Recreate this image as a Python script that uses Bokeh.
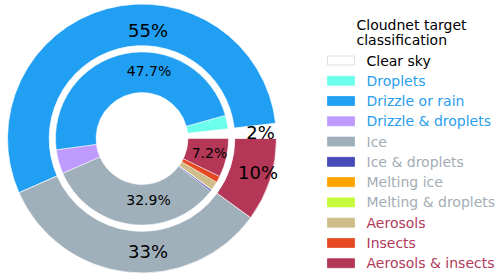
import numpy as np
from bokeh.plotting import figure
from bokeh.models import Range1d
from bokeh.core.properties import value
from bokeh.embed import file_html
from bokeh.resources import INLINE

# ---------------- data ----------------
classes = ["Clear sky", "Droplets", "Drizzle or rain", "Drizzle & droplets",
           "Ice", "Ice & droplets", "Melting ice", "Melting & droplets",
           "Aerosols", "Insects", "Aerosols & insects"]
class_pct = [1.8, 2.5, 47.7, 4.5, 32.9, 0.3, 0.1, 0.0, 1.6, 1.2, 7.2]
class_colors = ["#ffffff", "#6CFFEC", "#209FF3", "#BF9AFF", "#a0b0bb",
                "#464AB9", "#ffa500", "#C7FA3A", "#CEBC89", "#E64A23", "#B43757"]
class_group = [0, 1, 1, 1, 2, 2, 2, 2, 3, 3, 3]
group_colors = ["#ffffff", "#209FF3", "#a0b0bb", "#B43757"]
group_text_colors = ["#000000", "#2a9ded", "#a3adb5", "#b13a5a"]
legend_title = ["Cloudnet target", "classification"]

# ---------------- geometry (pixels) ----------------
W, H = 500, 277
def Y(y_img):
    return H - y_img

cx, cy = 141.5, Y(138)
R_out, R_out_in = 134.5, 92.8
R_in, R_in_in = 86.5, 46.0

p = figure(width=W, height=H, output_backend="svg", toolbar_location=None,
           x_range=Range1d(0, W), y_range=Range1d(0, H),
           x_axis_location=None, y_axis_location=None,
           min_border=0, min_border_left=0, min_border_right=0,
           min_border_top=0, min_border_bottom=0)
p.outline_line_color = None
p.grid.visible = False
p.background_fill_color = "white"

vals = np.array(class_pct, dtype=float)
total = vals.sum()
frac = vals / total
ends = np.cumsum(frac) * 2 * np.pi
starts = ends - frac * 2 * np.pi
keep = frac > 0

# outer ring: groups
groups = sorted(set(class_group))
gvals = np.array([vals[[i for i, g in enumerate(class_group) if g == k]].sum() for k in groups])
gfrac = gvals / total
gends = np.cumsum(gfrac) * 2 * np.pi
gstarts = gends - gfrac * 2 * np.pi

p.annular_wedge(x=cx, y=cy, inner_radius=R_out_in, outer_radius=R_out,
                start_angle=list(gstarts), end_angle=list(gends),
                fill_color=group_colors, line_color="white", line_width=0.7)
p.annular_wedge(x=cx, y=cy, inner_radius=R_in_in, outer_radius=R_in,
                start_angle=list(starts[keep]), end_angle=list(ends[keep]),
                fill_color=[c for c, k in zip(class_colors, keep) if k],
                line_color="white", line_width=0.5)

font = value("DejaVu Sans")

# outer labels (positions relative to centre, in pixels)
outer_offsets = [(118.5, 6), (6, 108), (6, -113), (116, -34)]
ox = [cx + o[0] for o in outer_offsets]
oy = [cy + o[1] for o in outer_offsets]
otxt = [f"{round(v):d}%" for v in gfrac * 100]
p.text(x=ox, y=oy, text=otxt, text_font=font, text_font_size="18px",
       text_align="center", text_baseline="middle", text_color="black")

# inner labels for large classes
inner_offsets = {2: (7, 68), 4: (6.5, -61), 10: (67.5, -14)}
ix, iy, itxt = [], [], []
for i, (dx, dy) in inner_offsets.items():
    ix.append(cx + dx)
    iy.append(cy + dy)
    itxt.append(f"{class_pct[i]:.1f}%")
p.text(x=ix, y=iy, text=itxt, text_font=font, text_font_size="14px",
       text_align="center", text_baseline="middle", text_color="black")

# legend
p.text(x=[356, 356], y=[Y(24), Y(39)], text=legend_title, text_font=font,
       text_font_size="14px", text_align="left", text_baseline="middle",
       text_color="black")
ly = [Y(60 + 20.27 * i) for i in range(len(classes))]
p.rect(x=[340.5] * len(classes), y=ly, width=27, height=9,
       fill_color=class_colors,
       line_color=["#d8d8d8"] + class_colors[1:], line_width=0.8)
p.text(x=[366] * len(classes), y=ly, text=classes, text_font=font,
       text_font_size="14px", text_align="left", text_baseline="middle",
       text_color=[group_text_colors[g] for g in class_group])

open("out.html", "w").write(file_html(p, INLINE))
